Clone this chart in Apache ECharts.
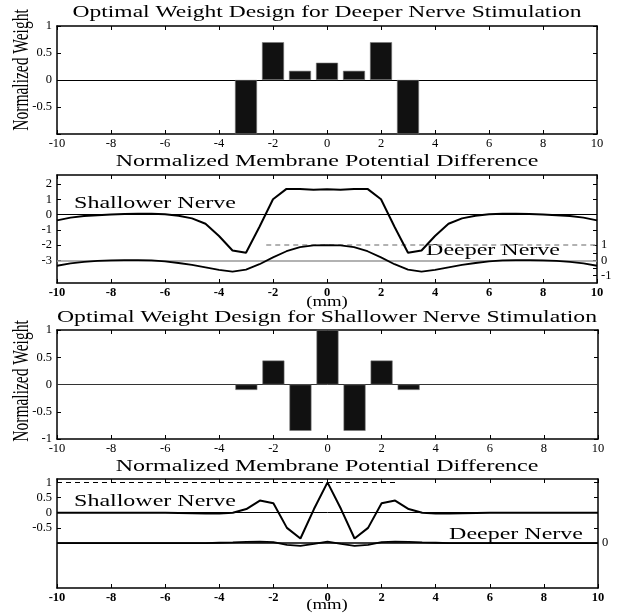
<!DOCTYPE html>
<html>
<head>
<meta charset="utf-8">
<script src="https://cdn.jsdelivr.net/npm/echarts@6/dist/echarts.min.js"></script>
<style>
html,body{margin:0;padding:0;background:#fff;}
#c{width:618px;height:613px;}
</style>
</head>
<body>
<div id="c"></div>
<script>
// ---------- data ----------
const weightPos = [-3, -2, -1, 0, 1, 2, 3];
const deeperWeights = [-1, 0.7, 0.17, 0.32, 0.17, 0.7, -1];
const shallowWeights = [-0.1, 0.44, -0.85, 1.0, -0.85, 0.44, -0.1];

const xPos = [-10, -9.5, -9, -8.5, -8, -7.5, -7, -6.5, -6, -5.5, -5, -4.5, -4, -3.5, -3, -2.5, -2, -1.5, -1, -0.5,
              0, 0.5, 1, 1.5, 2, 2.5, 3, 3.5, 4, 4.5, 5, 5.5, 6, 6.5, 7, 7.5, 8, 8.5, 9, 9.5, 10];

// Panel 2 (deeper-nerve design)
const p2Shallow = [-0.38, -0.2, -0.1, -0.04, 0.0, 0.03, 0.05, 0.05, 0.02, -0.08, -0.25, -0.6, -1.4, -2.35, -2.5, -0.8, 1.0, 1.68, 1.67, 1.62,
                   1.66, 1.62, 1.67, 1.68, 1.0, -0.8, -2.5, -2.35, -1.4, -0.6, -0.25, -0.08, 0.02, 0.05, 0.05, 0.03, 0.0, -0.04, -0.1, -0.2, -0.38];
const p2Deeper = [-0.35, -0.2, -0.1, -0.03, 0.0, 0.02, 0.02, 0.0, -0.07, -0.17, -0.3, -0.46, -0.62, -0.73, -0.6, -0.25, 0.2, 0.6, 0.87, 0.98,
                  1.0, 0.98, 0.87, 0.6, 0.2, -0.25, -0.6, -0.73, -0.62, -0.46, -0.3, -0.17, -0.07, 0.0, 0.02, 0.02, 0.0, -0.03, -0.1, -0.2, -0.35];
// Panel 4 (shallower-nerve design)
const p4Shallow = [0, 0, 0, 0, 0, 0, 0, 0, 0, -0.01, -0.02, -0.03, -0.03, 0, 0.12, 0.4, 0.31, -0.5, -0.85, 0.12,
                   1.0, 0.12, -0.85, -0.5, 0.31, 0.4, 0.12, 0, -0.03, -0.03, -0.02, -0.01, 0, 0, 0, 0, 0, 0, 0, 0, 0];
const p4Deeper = [0, 0, 0, 0, 0, 0, 0, 0, 0, 0, 0, 0, 0.01, 0.02, 0.04, 0.05, 0.03, -0.06, -0.09, -0.03,
                  0.05, -0.03, -0.09, -0.06, 0.03, 0.05, 0.04, 0.02, 0.01, 0, 0, 0, 0, 0, 0, 0, 0, 0, 0, 0, 0];

// reference levels
const p2DashedLevel = 1, p2DashedFrom = -2.25, p2DashedTo = 10;
const p4DashedLevel = 1, p4DashedFrom = -10, p4DashedTo = 2.5;

// tick labels
const weightLabels1 = [-0.5, 0, 0.5, 1];
const weightTicks = [-1, -0.5, 0, 0.5, 1];
const weightLabels3 = [-1, -0.5, 0, 0.5, 1];
const p2LeftLabels = [-3, -2, -1, 0, 1, 2];
const p2RightLabels = [-1, 0, 1];
const p2RightTicks = [-1, -0.5, 0, 0.5, 1, 2, 3, 4, 5];
const p4LeftLabels = [-0.5, 0, 0.5, 1];
const p4RightLabels = [0];
const p4RightTicks = [0, 0.5, 1, 1.5, 2];

const titles = ['Optimal Weight Design for Deeper Nerve Stimulation',
                'Normalized Membrane Potential Difference',
                'Optimal Weight Design for Shallower Nerve Stimulation',
                'Normalized Membrane Potential Difference'];

// ---------- chart ----------
const FONT = 'Liberation Serif';
const grids = [
  {left: 57, top: 26, width: 540, height: 108},
  {left: 57, top: 175, width: 540, height: 108},
  {left: 57, top: 330, width: 541, height: 109},
  {left: 57, top: 479, width: 541, height: 109}
];

function xAx(g, pos, showLabel, bold) {
  return {
    type: 'value', gridIndex: g, position: pos, min: -10, max: 10, interval: 2,
    axisLine: {show: true, onZero: false, lineStyle: {color: '#000', width: 1.5}},
    axisTick: {show: true, inside: true, length: 4, lineStyle: {color: '#000', width: 1}},
    axisLabel: {show: showLabel, margin: 3, color: '#000', fontFamily: FONT, fontSize: 12.5,
                fontWeight: bold ? 'bold' : 'normal'},
    splitLine: {show: false}
  };
}
function yAx(g, pos, min, max, labels, ticks, showLabel) {
  return {
    type: 'value', gridIndex: g, position: pos, min: min, max: max,
    axisLine: {show: true, onZero: false, lineStyle: {color: '#000', width: 1.5}},
    axisTick: {show: true, inside: true, length: 4, customValues: ticks, lineStyle: {color: '#000', width: 1}},
    axisLabel: {show: showLabel, customValues: labels, margin: pos === 'left' ? 5 : 4, color: '#000',
                fontFamily: FONT, fontSize: 12.5},
    splitLine: {show: false}
  };
}

const xAxes = [
  xAx(0, 'bottom', true, false), xAx(0, 'top', false, false),
  xAx(1, 'bottom', true, true), xAx(1, 'top', false, false),
  xAx(2, 'bottom', true, false), xAx(2, 'top', false, false),
  xAx(3, 'bottom', true, true), xAx(3, 'top', false, false)
];
const yAxes = [
  yAx(0, 'left', -1, 1, weightLabels1, weightTicks, true),
  yAx(0, 'right', -1, 1, [], weightTicks, false),
  yAx(1, 'left', -4.48, 2.59, p2LeftLabels, p2LeftLabels, true),
  yAx(1, 'right', -1.48, 5.59, p2RightLabels, p2RightTicks, true),
  yAx(2, 'left', -1, 1, weightLabels3, weightTicks, true),
  yAx(2, 'right', -1, 1, [], weightTicks, false),
  yAx(3, 'left', -2.48, 1.11, p4LeftLabels, p4LeftLabels, true),
  yAx(3, 'right', -1.48, 2.11, p4RightLabels, p4RightTicks, true)
];

function zeroLine(color, width) {
  return {silent: true, symbol: ['none', 'none'], z: 1, label: {show: false},
          lineStyle: {color: color, width: width, type: 'solid'}, emphasis: {disabled: true},
          data: [{yAxis: 0}]};
}
function pairs(xs, ys) { return xs.map((x, i) => [x, ys[i]]); }

const series = [
  {type: 'bar', xAxisIndex: 0, yAxisIndex: 0, z: 3, barWidth: 22,
   itemStyle: {color: '#111', borderColor: '#777', borderWidth: 0.6},
   data: pairs(weightPos, deeperWeights), markLine: zeroLine('#000', 1)},
  {type: 'line', xAxisIndex: 2, yAxisIndex: 2, z: 3, symbol: 'none', smooth: false,
   lineStyle: {color: '#000', width: 2}, data: pairs(xPos, p2Shallow), markLine: zeroLine('#000', 1)},
  {type: 'line', xAxisIndex: 2, yAxisIndex: 3, z: 3, symbol: 'none', smooth: false,
   lineStyle: {color: '#000', width: 1.8}, data: pairs(xPos, p2Deeper),
   markLine: {silent: true, symbol: ['none', 'none'], z: 1, label: {show: false}, emphasis: {disabled: true},
     lineStyle: {color: '#999', width: 1.5, type: 'solid'},
     data: [
       {yAxis: 0, lineStyle: {color: '#999', width: 1.5, type: 'solid'}},
       [{coord: [p2DashedFrom, p2DashedLevel], lineStyle: {color: '#999', width: 1.5, type: [5, 4]}},
        {coord: [p2DashedTo, p2DashedLevel]}]
     ]}},
  {type: 'bar', xAxisIndex: 4, yAxisIndex: 4, z: 3, barWidth: 22,
   itemStyle: {color: '#111', borderColor: '#777', borderWidth: 0.6},
   data: pairs(weightPos, shallowWeights), markLine: zeroLine('#333', 1)},
  {type: 'line', xAxisIndex: 6, yAxisIndex: 6, z: 3, symbol: 'none', smooth: false,
   lineStyle: {color: '#000', width: 2}, data: pairs(xPos, p4Shallow),
   markLine: {silent: true, symbol: ['none', 'none'], z: 1, label: {show: false}, emphasis: {disabled: true},
     lineStyle: {color: '#000', width: 1, type: 'solid'},
     data: [
       {yAxis: 0, lineStyle: {color: '#000', width: 1, type: 'solid'}},
       [{coord: [p4DashedFrom, p4DashedLevel], lineStyle: {color: '#000', width: 1, type: [5, 4]}},
        {coord: [p4DashedTo, p4DashedLevel]}]
     ]}},
  {type: 'line', xAxisIndex: 6, yAxisIndex: 7, z: 3, symbol: 'none', smooth: false,
   lineStyle: {color: '#000', width: 1.8}, data: pairs(xPos, p4Deeper), markLine: zeroLine('#000', 1.5)}
];

function txt(text, x, y, size, sx, extra) {
  return Object.assign({
    type: 'text', x: x, y: y, scaleX: sx, silent: true,
    style: {text: text, x: 0, y: 0, align: 'center', verticalAlign: 'middle', fill: '#000',
            font: size + 'px "' + FONT + '"'}
  }, extra || {});
}
const graphics = [
  txt(titles[0], 327, 13, 16, 1.47),
  txt(titles[1], 327, 162, 16, 1.5),
  txt(titles[2], 327, 318, 16, 1.48),
  txt(titles[3], 327, 467, 16, 1.5),
  txt('Shallower Nerve', 155, 204, 16, 1.5),
  txt('Deeper Nerve', 493, 251, 16, 1.5),
  txt('Shallower Nerve', 155, 502, 16, 1.5),
  txt('Deeper Nerve', 516, 535, 16, 1.5),
  txt('(mm)', 327, 302, 15, 1.25),
  txt('(mm)', 327, 605, 15, 1.25),
  {type: 'text', x: 22, y: 70, rotation: Math.PI / 2, scaleY: 1.5, silent: true,
   style: {text: 'Normalized Weight', x: 0, y: 0, align: 'center', verticalAlign: 'middle', fill: '#000',
           font: '15.5px "' + FONT + '"'}},
  {type: 'text', x: 22, y: 381, rotation: Math.PI / 2, scaleY: 1.5, silent: true,
   style: {text: 'Normalized Weight', x: 0, y: 0, align: 'center', verticalAlign: 'middle', fill: '#000',
           font: '15.5px "' + FONT + '"'}}
];

const chart = echarts.init(document.getElementById('c'), null, {renderer: 'canvas'});
chart.setOption({
  animation: false,
  backgroundColor: '#fff',
  grid: grids,
  xAxis: xAxes,
  yAxis: yAxes,
  series: series,
  graphic: graphics
});
</script>
</body>
</html>
